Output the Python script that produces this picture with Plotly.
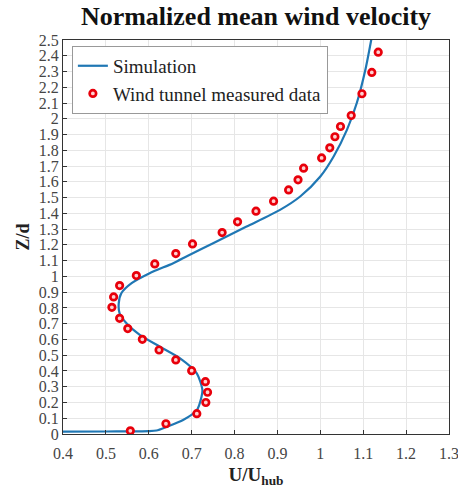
import plotly.graph_objects as go

# Simulation curve (U/Uhub vs Z/d)
sim_u = [0.40, 0.50, 0.60, 0.618, 0.642, 0.68, 0.712, 0.723, 0.725, 0.712, 0.673, 0.626, 0.579,
         0.548, 0.532, 0.530, 0.536, 0.560, 0.602, 0.657, 0.690, 0.750, 0.828, 0.906,
         0.953, 1.000, 1.031, 1.062, 1.085, 1.105, 1.120]
sim_z = [0.015, 0.016, 0.018, 0.022, 0.046, 0.089, 0.152, 0.237, 0.28, 0.385, 0.480, 0.554, 0.629,
         0.703, 0.766, 0.830, 0.893, 0.957, 1.020, 1.084, 1.130, 1.211, 1.316, 1.422,
         1.507, 1.634, 1.761, 1.930, 2.100, 2.311, 2.520]

# Wind tunnel measured data
exp_u = [0.557, 0.640, 0.712, 0.733, 0.737, 0.732, 0.700, 0.663, 0.624, 0.585, 0.551, 0.532,
         0.514, 0.518, 0.532, 0.571, 0.614, 0.663, 0.702, 0.771, 0.807, 0.850, 0.891, 0.926,
         0.948, 0.961, 1.003, 1.022, 1.034, 1.047, 1.072, 1.097, 1.120, 1.135]
exp_z = [0.020, 0.065, 0.129, 0.200, 0.265, 0.332, 0.402, 0.470, 0.533, 0.601, 0.669, 0.734,
         0.804, 0.870, 0.942, 1.005, 1.079, 1.145, 1.206, 1.278, 1.346, 1.414, 1.477, 1.549,
         1.613, 1.687, 1.752, 1.816, 1.886, 1.951, 2.021, 2.159, 2.294, 2.423]

x_ticks = [0.4, 0.5, 0.6, 0.7, 0.8, 0.9, 1.0, 1.1, 1.2, 1.3]
x_tick_labels = ["0.4", "0.5", "0.6", "0.7", "0.8", "0.9", "1", "1.1", "1.2", "1.3"]
y_ticks = [round(i * 0.1, 1) for i in range(26)]
y_tick_labels = [f"{v:g}" for v in y_ticks]

serif = "Liberation Serif"

fig = go.Figure()
fig.add_trace(go.Scatter(x=sim_u, y=sim_z, mode="lines", name="Simulation",
                         line=dict(color="#1f77b4", width=2.2, shape="spline", smoothing=0.7)))
fig.add_trace(go.Scatter(x=exp_u, y=exp_z, mode="markers", name="Wind tunnel measured data",
                         marker=dict(symbol="circle", size=6.5, color="#ffd0d0",
                                     line=dict(color="#e8000b", width=2.7))))

axis_common = dict(showgrid=True, gridcolor="#e6e6e6", gridwidth=1, showline=True,
                   linecolor="#333333", linewidth=1, mirror=True, ticks="inside",
                   ticklen=4, tickcolor="#333333", zeroline=False, automargin=False,
                   tickfont=dict(family=serif, size=16, color="#454545"))

fig.update_layout(
    width=458, height=498,
    margin=dict(l=63, r=9, t=40, b=64),
    paper_bgcolor="white", plot_bgcolor="white",
    font=dict(family=serif),
    title=dict(text="<b>Normalized mean wind velocity</b>", x=0.559, xanchor="center",
               y=0.968, yanchor="middle",
               font=dict(family=serif, size=26, color="#111111")),
    xaxis=dict(range=[0.4, 1.3], tickvals=x_ticks, ticktext=x_tick_labels,
               ticklabeloverflow="allow", ticklabelstandoff=5,
               title=dict(text="<b>U/U<sub>hub</sub></b>", standoff=6,
                          font=dict(family=serif, size=19, color="#222222")),
               **axis_common),
    yaxis=dict(range=[0, 2.5], tickvals=y_ticks, ticktext=y_tick_labels,
               title=dict(text="<b>Z/d</b>", standoff=4,
                          font=dict(family=serif, size=18, color="#222222")),
               **axis_common),
    legend=dict(x=0.023, y=0.985, xanchor="left", yanchor="top",
                bgcolor="white", bordercolor="#999999", borderwidth=1,
                font=dict(family=serif, size=19, color="#222222"),
                itemwidth=30, tracegroupgap=0),
    showlegend=True,
)

fig.write_html("out.html", config={"displayModeBar": False},
               post_script="document.body.style.margin='0';")
